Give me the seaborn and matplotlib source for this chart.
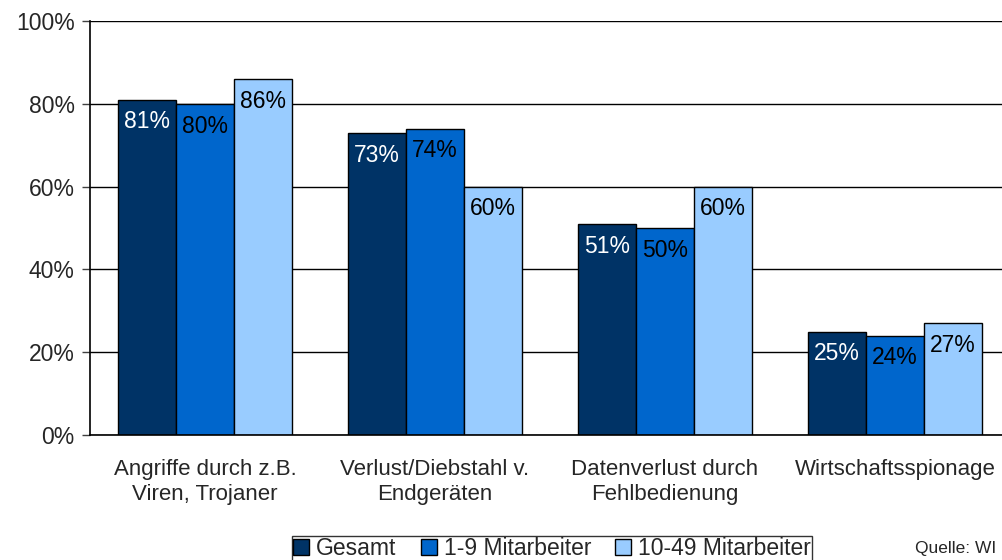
import matplotlib
matplotlib.use("Agg")
import matplotlib.pyplot as plt
import seaborn as sns
import pandas as pd
from matplotlib.patches import Patch

categories = ["Angriffe durch z.B.\nViren, Trojaner", "Verlust/Diebstahl v.\nEndgeräten",
              "Datenverlust durch\nFehlbedienung", "Wirtschaftsspionage"]
series_names = ["Gesamt", "1-9 Mitarbeiter", "10-49 Mitarbeiter"]
gesamt = [81, 73, 51, 25]
klein = [80, 74, 50, 24]
mittel = [86, 60, 60, 27]
colors = ["#003366", "#0066CC", "#99CCFF"]
label_colors = ["white", "black", "black"]
yticks = [0, 20, 40, 60, 80, 100]
source = "Quelle: WI"

rows = []
for s, vals in zip(series_names, [gesamt, klein, mittel]):
    for c, v in zip(categories, vals):
        rows.append({"Kategorie": c, "Serie": s, "Wert": v})
df = pd.DataFrame(rows)

sns.set_theme(style="white")
plt.rcParams["font.family"] = ["Liberation Sans", "DejaVu Sans"]

fig = plt.figure(figsize=(10.02, 5.6), dpi=100)
ax = fig.add_axes([90/1002, 1-435/560, 920/1002, (435-21)/560])

sns.barplot(data=df, x="Kategorie", y="Wert", hue="Serie", order=categories,
            hue_order=series_names, palette=colors, width=0.757, gap=0,
            edgecolor="black", linewidth=1, saturation=1, ax=ax, legend=False)

for cont, lc in zip(ax.containers, label_colors):
    for bar in cont:
        h = bar.get_height()
        ax.annotate(f"{h:.0f}%", (bar.get_x() + bar.get_width()/2, h),
                    xytext=(0, -16), textcoords="offset points",
                    ha="center", va="center", fontsize=16.5, color=lc)

ax.set_ylim(0, 100)
ax.set_xlim(-0.5, 3.5)
ax.set_yticks(yticks)
ax.set_yticklabels([f"{t}%" for t in yticks], fontsize=16.5)
ax.yaxis.grid(True, color="black", linewidth=1)
ax.set_axisbelow(True)
ax.set_xticks([0, 1, 2, 3])
ax.set_xticklabels(categories, fontsize=16, linespacing=1.25)
ax.set_xticks([0.5, 1.5, 2.5], minor=True)
ax.tick_params(axis="x", which="major", length=0, pad=17)
ax.tick_params(axis="x", which="minor", length=5, color="#808080", width=1.2, direction="out")
ax.tick_params(axis="y", length=6, color="#404040", width=1, direction="out", left=True, pad=5)
ax.set_xlabel("")
ax.set_ylabel("")
for side in ["top", "right"]:
    ax.spines[side].set_visible(False)
ax.spines["left"].set_color("black")
ax.spines["bottom"].set_color("black")
ax.spines["left"].set_linewidth(1.2)
ax.spines["bottom"].set_linewidth(1.2)

handles = [Patch(facecolor=c, edgecolor="black", label=n) for c, n in zip(colors, series_names)]
leg = fig.legend(handles=handles, loc="upper center", bbox_to_anchor=(0.551, 1-536/560),
                 ncol=3, frameon=True, fancybox=False, fontsize=16.5,
                 handlelength=0.7, handleheight=0.7, handletextpad=0.3,
                 columnspacing=1.05, borderpad=0.05, borderaxespad=0)
leg.get_frame().set_edgecolor("black")
leg.get_frame().set_linewidth(1)

fig.text(915/1002, 1-549/560, source, fontsize=12.5, va="center", ha="left")

fig.savefig("out.png", dpi=100)
